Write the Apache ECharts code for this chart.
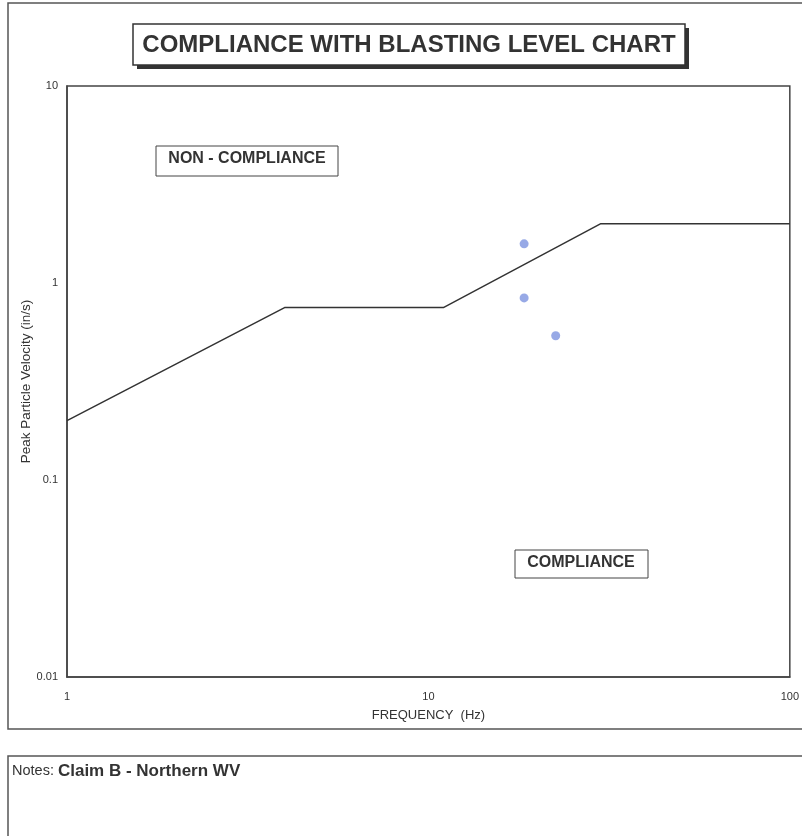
<!DOCTYPE html>
<html>
<head>
<meta charset="utf-8">
<script src="https://cdn.jsdelivr.net/npm/echarts@6/dist/echarts.min.js"></script>
<style>
html, body { margin: 0; padding: 0; background: #fff; }
#chart { width: 802px; height: 836px; }
</style>
</head>
<body>
<div id="chart"></div>
<script>
// compliance limit line (frequency Hz, PPV in/s)
const limitFreq = [1, 4, 11, 30, 100];
const limitPpv = [0.2, 0.75, 0.75, 2, 2];
// measured blasts
const blastFreq = [18.4, 18.4, 22.5];
const blastPpv = [1.58, 0.84, 0.54];
const yTicks = [0.01, 0.1, 1, 10];
const xTicks = [1, 10, 100];

const font = 'Liberation Sans, Arial, sans-serif';

const chart = echarts.init(document.getElementById('chart'));

const option = {
  animation: false,
  backgroundColor: '#fff',
  grid: { left: 67, right: 9, top: 86, bottom: 159, show: true, borderColor: '#444', borderWidth: 1.5 },
  xAxis: {
    type: 'log', logBase: 10, min: 1, max: 100,
    name: 'FREQUENCY  (Hz)', nameLocation: 'middle', nameGap: 32,
    nameTextStyle: { fontFamily: font, fontSize: 13, color: '#333' },
    axisLine: { show: true, lineStyle: { color: '#444', width: 1.5 } },
    axisTick: { show: false }, splitLine: { show: false }, minorTick: { show: false },
    axisLabel: { fontFamily: font, fontSize: 11, color: '#333', margin: 14,
      formatter: v => (xTicks.includes(Math.round(v)) ? String(Math.round(v)) : '') }
  },
  yAxis: {
    type: 'log', logBase: 10, min: 0.01, max: 10,
    name: 'Peak Particle Velocity (in/s)', nameLocation: 'middle', nameGap: 34,
    nameMoveOverlap: false,
    nameTextStyle: { fontFamily: font, fontSize: 13.5, color: '#333' },
    axisLine: { show: true, lineStyle: { color: '#444', width: 1.5 } },
    axisTick: { show: false }, splitLine: { show: false },
    axisLabel: { fontFamily: font, fontSize: 11, color: '#333', margin: 9,
      formatter: v => {
        const t = yTicks.find(k => Math.abs(k - v) / k < 1e-6);
        return t === undefined ? '' : String(t);
      } }
  },
  series: [
    {
      type: 'line', symbol: 'none',
      lineStyle: { color: '#333', width: 1.5 },
      data: limitFreq.map((f, i) => [f, limitPpv[i]])
    },
    {
      type: 'scatter', symbolSize: 9,
      itemStyle: { color: '#7d93e0' },
      data: blastFreq.map((f, i) => [f, blastPpv[i]])
    }
  ],
  graphic: [
    // outer chart frame
    { type: 'rect', shape: { x: 8, y: 3, width: 800, height: 726 },
      style: { fill: 'none', stroke: '#555', lineWidth: 1.5 }, z: -1 },
    // title box with shadow
    { type: 'rect', shape: { x: 137, y: 28, width: 552, height: 41 }, style: { fill: '#333' } },
    { type: 'rect', shape: { x: 133, y: 24, width: 552, height: 41 },
      style: { fill: '#fff', stroke: '#333', lineWidth: 1.5 } },
    { type: 'text', x: 409, y: 45,
      style: { text: 'COMPLIANCE WITH BLASTING LEVEL CHART', font: 'bold 24px ' + font,
        fill: '#333', align: 'center', verticalAlign: 'middle' } },
    // region labels
    { type: 'rect', shape: { x: 156, y: 146, width: 182, height: 30 },
      style: { fill: '#fff', stroke: '#444', lineWidth: 1 }, z: 10 },
    { type: 'text', x: 247, y: 159, z: 11,
      style: { text: 'NON - COMPLIANCE', font: 'bold 16px ' + font,
        fill: '#333', align: 'center', verticalAlign: 'middle' } },
    { type: 'rect', shape: { x: 515, y: 550, width: 133, height: 28 },
      style: { fill: '#fff', stroke: '#444', lineWidth: 1 }, z: 10 },
    { type: 'text', x: 581, y: 563, z: 11,
      style: { text: 'COMPLIANCE', font: 'bold 16px ' + font,
        fill: '#333', align: 'center', verticalAlign: 'middle' } },
    // notes box
    { type: 'rect', shape: { x: 8, y: 756, width: 800, height: 100 },
      style: { fill: 'none', stroke: '#555', lineWidth: 1.5 } },
    { type: 'text', x: 12, y: 771,
      style: { text: '{a|Notes: }{b|Claim B - Northern WV}', verticalAlign: 'middle',
        rich: {
          a: { fontFamily: font, fontSize: 14.5, fill: '#333' },
          b: { fontFamily: font, fontWeight: 'bold', fontSize: 17, fill: '#333' }
        } } }
  ]
};

chart.setOption(option);
</script>
</body>
</html>
